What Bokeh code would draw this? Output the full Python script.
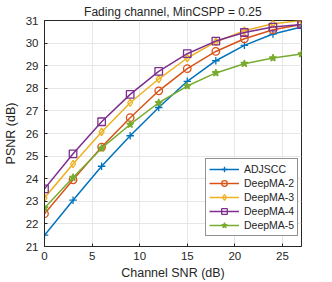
from bokeh.plotting import figure
from bokeh.models import Range1d, Legend, LegendItem, FixedTicker
from bokeh.embed import file_html
from bokeh.resources import INLINE

snr = [0, 3, 6, 9, 12, 15, 18, 21, 24, 27]
adjscc = [21.5, 23.05, 24.55, 25.9, 27.15, 28.31, 29.22, 29.9, 30.4, 30.71]
deepma2 = [22.45, 23.95, 25.4, 26.7, 27.89, 28.87, 29.63, 30.19, 30.59, 30.82]
deepma3 = [23.15, 24.65, 26.07, 27.36, 28.41, 29.34, 30.05, 30.55, 30.86, 31.0]
deepma4 = [23.55, 25.1, 26.52, 27.73, 28.75, 29.53, 30.09, 30.47, 30.71, 30.82]
deepma5 = [22.7, 24.05, 25.35, 26.4, 27.36, 28.1, 28.68, 29.09, 29.34, 29.52]

series = [
    ("ADJSCC", adjscc, "#0072BD", "cross"),
    ("DeepMA-2", deepma2, "#D95319", "circle"),
    ("DeepMA-3", deepma3, "#EDB120", "diamond"),
    ("DeepMA-4", deepma4, "#7E2F8E", "square"),
    ("DeepMA-5", deepma5, "#77AC30", "star"),
]

x_ticks = [0, 5, 10, 15, 20, 25]
y_ticks = [21, 22, 23, 24, 25, 26, 27, 28, 29, 30, 31]

FONT = "Liberation Sans"

p = figure(width=332, height=282, output_backend="svg", toolbar_location=None,
           x_range=Range1d(0, 27), y_range=Range1d(21, 31),
           min_border_left=43, min_border_right=31, min_border_top=20, min_border_bottom=35)

p.title.text = "Fading channel, MinCSPP = 0.25"
p.title.align = "center"
p.title.text_font = FONT
p.title.text_font_size = "12px"
p.title.text_font_style = "normal"
p.title.text_color = "#262626"
p.title.standoff = 3

p.outline_line_color = "#262626"
p.outline_line_width = 1
p.xgrid.grid_line_color = "#e6e6e6"
p.ygrid.grid_line_color = "#e6e6e6"

for ax in [p.xaxis[0], p.yaxis[0]]:
    ax.major_tick_in = 3
    ax.major_tick_out = 0
    ax.minor_tick_in = 0
    ax.minor_tick_out = 0
    ax.axis_line_color = "#262626"
    ax.major_tick_line_color = "#262626"
    ax.major_label_text_font = FONT
    ax.major_label_text_font_size = "11.5px"
    ax.major_label_text_color = "#262626"
    ax.axis_label_text_font = FONT
    ax.axis_label_text_font_size = "12.5px"
    ax.axis_label_text_font_style = "normal"
    ax.axis_label_text_color = "#262626"

p.xaxis.ticker = FixedTicker(ticks=x_ticks)
p.yaxis.ticker = FixedTicker(ticks=y_ticks)
p.xaxis.axis_label = "Channel SNR (dB)"
p.yaxis.axis_label = "PSNR (dB)"
p.xaxis.major_label_standoff = 5
p.yaxis.major_label_standoff = 6
p.xaxis.axis_label_standoff = 3
p.yaxis.axis_label_standoff = 5

items = []
for name, ys, color, marker in series:
    r1 = p.line(snr, ys, line_color=color, line_width=1.5)
    fill = color if marker == "star" else None
    r2 = p.scatter(snr, ys, marker=marker, size=7.5, line_color=color, fill_color=fill,
                   line_width=1.3)
    items.append(LegendItem(label=name, renderers=[r1, r2]))

legend = Legend(items=items, location=(161, 10))
legend.label_text_font = FONT
legend.label_text_font_size = "10.5px"
legend.label_text_color = "#262626"
legend.glyph_width = 30
legend.glyph_height = 14
legend.label_height = 14
legend.spacing = 0
legend.padding = 3
legend.margin = 0
legend.label_standoff = 5
legend.border_line_color = "#262626"
legend.border_line_width = 1
legend.background_fill_color = "white"
p.add_layout(legend, "center")

open("out.html", "w").write(file_html(p, INLINE))
